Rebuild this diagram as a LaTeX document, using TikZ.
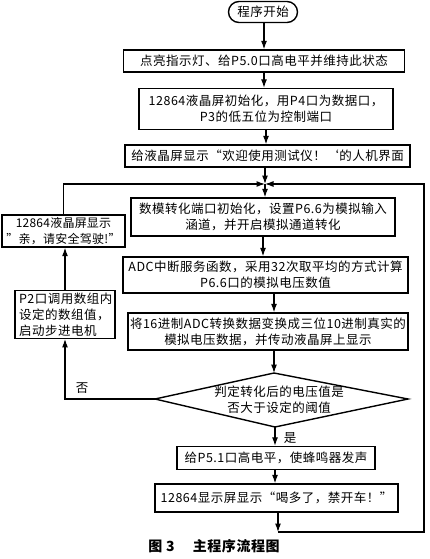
\documentclass[tikz,border=0pt]{standalone}
\usepackage{fontspec}
\setmainfont{Noto Sans CJK SC}[LetterSpace=4]
\usetikzlibrary{arrows.meta,shapes.misc}
\begin{document}
\begin{tikzpicture}[x=1pt,y=-1pt,
  box/.style={draw,line width=1.4pt,inner sep=2pt,align=center,font=\fontsize{12.5}{16}\selectfont},
  lbl/.style={font=\fontsize{12.5}{16}\selectfont,inner sep=0pt},
  arr/.style={line width=1.1pt,-{Latex[length=8.5pt,width=6pt]}},
  ln/.style={line width=1.1pt}]
\useasboundingbox[fill=white] (0,0) rectangle (430,559);
\node[box,rounded rectangle,minimum width=73pt,minimum height=21pt] (start) at (263,12) {程序开始};
\node[box,minimum width=281pt,minimum height=22pt] (b2) at (264,61) {点亮指示灯、给P5.0口高电平并维持此状态};
\node[box,minimum width=254pt,minimum height=41pt] (b3) at (266,109) {12864液晶屏初始化，用P4口为数据口，\\P3的低五位为控制端口};
\node[box,minimum width=285pt,minimum height=22pt] (b4) at (267.5,156) {给液晶屏显示“欢迎使用测试仪！‘的人机界面};
\coordinate (j) at (265,184);
\node[box,minimum width=264pt,minimum height=38pt] (b5) at (263,217) {数模转化端口初始化，设置P6.6为模拟输入\\涵道，并开启模拟通道转化};
\node[box,minimum width=123pt,minimum height=32pt,inner sep=0pt,font=\fontsize{12}{15.5}\selectfont\addfontfeature{LetterSpace=2}] (A) at (63.5,231) {12864液晶屏显示\\"亲，请安全驾驶!"};
\node[box,minimum width=285pt,minimum height=36pt] (b6) at (265.5,275) {ADC中断服务函数，采用32次取平均的方式计算\\P6.6口的模拟电压数值};
\node[box,minimum width=280pt,minimum height=37pt] (b7) at (268,331.5) {将16进制ADC转换数据变换成三位10进制真实的\\模拟电压数据，并传动液晶屏上显示};
\node[box,align=left,minimum width=100pt,minimum height=45pt,text width=92pt] (B) at (65,314.5) {P2口调用数组内\\设定的数组值，\\启动步进电机};
\coordinate (dt) at (274,373);
\coordinate (dr) at (408,399);
\coordinate (db) at (275,427);
\coordinate (dl) at (155,399);
\draw[line width=1.4pt] (dt) -- (dr) -- (db) -- (dl) -- cycle;
\node[lbl,align=center] (dtext) at (279,400) {判定转化后的电压值是\\否大于设定的阈值};
\node[box,minimum width=198pt,minimum height=23pt] (b8) at (276,458) {给P5.1口高电平，使蜂鸣器发声};
\node[box,minimum width=243pt,minimum height=28pt] (b9) at (276.5,498) {12864显示屏显示“喝多了，禁开车！”};
\coordinate (r1) at (278,532);
\coordinate (r2) at (424,532);
\coordinate (r3) at (424,184);
\node[lbl] (no) at (82,388) {否};
\node[lbl] (yes) at (290,438) {是};
\node[font=\fontsize{14}{16}\selectfont\bfseries] (cap) at (214,546) {图 3\hspace{1.3em}主程序流程图};
% connectors
\draw[arr] (start.south -| b2.north) -- (b2.north);
\draw[arr] (b2.south) -- (b2.south |- b3.north);
\draw[arr] (b3.south) -- (b3.south |- b4.north);
\draw[arr] (b4.south -| j) -- (j);
\draw[arr] (A.north) |- (j);
\draw[arr] (j) -- (j |- b5.north);
\draw[arr] (b5.south) -- (b5.south |- b6.north);
\draw[arr] (b6.south -| dt) -- (dt |- b7.north);
\draw[arr] (b7.south -| dt) -- (dt);
\draw[arr] (dl) -| (B.south);
\draw[arr] (B.north) -- (B.north |- A.south);
\draw[arr] (db) -- (db |- b8.north);
\draw[arr] (b8.south -| db) -- (db |- b9.north);
\draw[arr] (b9.south -| r1) -- (r1);
\draw[arr] (r1) -- (r2) -- (r3) -- (j);
\end{tikzpicture}
\end{document}
